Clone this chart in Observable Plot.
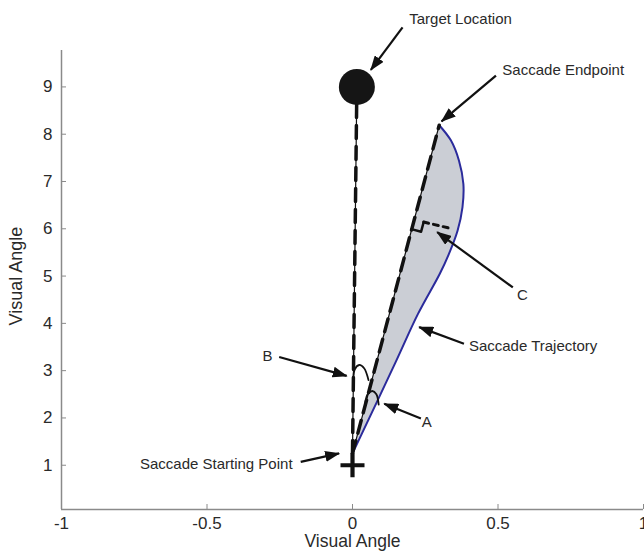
<!DOCTYPE html>
<html>
<head>
<meta charset="utf-8">
<script src="https://cdn.jsdelivr.net/npm/d3@7"></script>
<script src="https://cdn.jsdelivr.net/npm/@observablehq/plot@0.6"></script>
<style>
  html, body { margin: 0; padding: 0; background: #fff; }
</style>
</head>
<body>
<div id="chart"></div>
<script>
// ---- data (visual-angle units) ----
const xTicks = [-1, -0.5, 0, 0.5, 1];
const xTickLabels = ["-1", "-0.5", "0", "0.5", "1"];
const yTicks = [1, 2, 3, 4, 5, 6, 7, 8, 9];
const yTickLabels = ["1", "2", "3", "4", "5", "6", "7", "8", "9"];
const xDomain = [-1, 1];
const yDomain = [0.064, 9.77];

const startPoint = {x: 0, y: 1.25};     // saccade starting point (trajectory start)
const fixationCross = {x: 0, y: 1};     // "+" marker
const target = {x: 0.015, y: 9};        // target location
const endpoint = {x: 0.298, y: 8.19};   // saccade endpoint

// saccade trajectory (blue curve)
const trajX = [0, 0.149, 0.225, 0.300, 0.330, 0.361, 0.378, 0.381, 0.366, 0.338, 0.298];
const trajY = [1.25, 3.19, 4.20, 5.05, 5.45, 5.96, 6.46, 6.95, 7.44, 7.87, 8.19];

// angle arc A (between straight path and trajectory)
const arcAX = [0.044, 0.052, 0.068, 0.082, 0.090];
const arcAY = [2.33, 2.50, 2.57, 2.50, 2.28];
// angle arc B (between target line and straight path)
const arcBX = [0.003, 0.008, 0.023, 0.040, 0.055];
const arcBY = [2.82, 3.03, 3.12, 3.05, 2.80];

// right-angle marker C and perpendicular (max deviation)
const markX = [0.2026, 0.2357, 0.2447];
const markY = [5.992, 5.939, 6.143];
const perpX = [0.2447, 0.338];
const perpY = [6.143, 6.006];

// annotation labels
const labelText = ["Target Location", "Saccade Endpoint", "C", "Saccade Trajectory", "A", "B", "Saccade Starting Point"];
const labelX = [0.195, 0.515, 0.584, 0.40, 0.255, -0.292, -0.206];
const labelY = [10.44, 9.344, 4.59, 3.52, 1.91, 3.30, 1.02];
const labelAnchor = ["start", "start", "middle", "start", "middle", "middle", "end"];

// annotation arrows (tail -> tip)
const arrowX1 = [0.172, 0.493, 0.551, 0.383, 0.235, -0.252, -0.178];
const arrowY1 = [10.26, 9.24, 4.76, 3.57, 1.99, 3.29, 1.07];
const arrowX2 = [0.063, 0.306, 0.291, 0.229, 0.109, -0.020, -0.046];
const arrowY2 = [9.36, 8.27, 5.93, 3.92, 2.30, 2.89, 1.25];

// ---- build tables ----
const traj = trajX.map((x, i) => ({x, y: trajY[i]}));
const arcA = arcAX.map((x, i) => ({x, y: arcAY[i]}));
const arcB = arcBX.map((x, i) => ({x, y: arcBY[i]}));
const mark = markX.map((x, i) => ({x, y: markY[i]}));
const perp = perpX.map((x, i) => ({x, y: perpY[i]}));
const labels = labelText.map((t, i) => ({t, x: labelX[i], y: labelY[i], a: labelAnchor[i]}));
const arrows = arrowX1.map((x1, i) => ({x1, y1: arrowY1[i], x2: arrowX2[i], y2: arrowY2[i]}));
const targetLine = [startPoint, target];
const straightLine = [startPoint, endpoint];

const plusSymbol = {
  draw(ctx, size) {
    const r = Math.sqrt(size / Math.PI);
    ctx.moveTo(-r, 0); ctx.lineTo(r, 0);
    ctx.moveTo(0, -r); ctx.lineTo(0, r);
  }
};

const axisColor = "#8a8a8a";
const textColor = "#2a2a2a";

const chart = Plot.plot({
  width: 644,
  height: 551,
  marginLeft: 61,
  marginRight: 1,
  marginTop: 50,
  marginBottom: 42,
  style: {fontFamily: "'Liberation Sans', Arial, sans-serif", background: "#fff", color: textColor, overflow: "visible"},
  x: {domain: xDomain, axis: null},
  y: {domain: yDomain, axis: null},
  marks: [
    // grey area between straight path and trajectory (polygon closes along straight line)
    Plot.line(traj, {x: "x", y: "y", fill: "#cbced5", stroke: "none", curve: "catmull-rom"}),
    Plot.line(traj, {x: "x", y: "y", stroke: "#2b2b9c", strokeWidth: 2, curve: "catmull-rom"}),
    // thin solid + thick dashed lines
    Plot.line(targetLine, {x: "x", y: "y", stroke: "#111", strokeWidth: 1.2}),
    Plot.line(targetLine, {x: "x", y: "y", stroke: "#111", strokeWidth: 3.5, strokeDasharray: "13,8"}),
    Plot.line(straightLine, {x: "x", y: "y", stroke: "#111", strokeWidth: 1.2}),
    Plot.line(straightLine, {x: "x", y: "y", stroke: "#111", strokeWidth: 3.5, strokeDasharray: "13,8"}),
    // angle arcs
    Plot.line(arcA, {x: "x", y: "y", stroke: "#111", strokeWidth: 1.8, curve: "catmull-rom"}),
    Plot.line(arcB, {x: "x", y: "y", stroke: "#111", strokeWidth: 1.8, curve: "catmull-rom"}),
    // right angle marker and perpendicular
    Plot.line(mark, {x: "x", y: "y", stroke: "#111", strokeWidth: 2.5}),
    Plot.line(perp, {x: "x", y: "y", stroke: "#111", strokeWidth: 3, strokeDasharray: "5,5"}),
    // fixation cross and target
    Plot.dot([fixationCross], {x: "x", y: "y", symbol: plusSymbol, r: 12, stroke: "#111", strokeWidth: 4.2, fill: "none"}),
    Plot.dot([target], {x: "x", y: "y", r: 18, fill: "#151515"}),
    // annotation arrows
    Plot.link(arrows, {x1: "x1", y1: "y1", x2: "x2", y2: "y2", stroke: "#111", strokeWidth: 2.2}),
    // annotation labels
    Plot.text(labels.filter(d => d.a === "start"), {x: "x", y: "y", text: "t", textAnchor: "start", fontSize: 15, fill: textColor}),
    Plot.text(labels.filter(d => d.a === "middle"), {x: "x", y: "y", text: "t", textAnchor: "middle", fontSize: 15, fill: textColor}),
    Plot.text(labels.filter(d => d.a === "end"), {x: "x", y: "y", text: "t", textAnchor: "end", fontSize: 15, fill: textColor}),
    // axes
    Plot.ruleX([xDomain[0]], {stroke: axisColor, strokeWidth: 1.5}),
    Plot.ruleY([yDomain[0]], {stroke: axisColor, strokeWidth: 1.5}),
    Plot.tickX(xTicks, {x: d => d, stroke: axisColor, insetTop: 454}),
    Plot.tickY(yTicks, {y: d => d, stroke: axisColor, insetRight: 577}),
    Plot.axisX({ticks: xTicks, tickFormat: d => xTickLabels[xTicks.indexOf(d)], tickSize: 0, tickPadding: 7, fontSize: 17, label: null, fill: textColor}),
    Plot.axisY({ticks: yTicks, tickFormat: d => yTickLabels[yTicks.indexOf(d)], tickSize: 0, tickPadding: 9, fontSize: 17, label: null, fill: textColor}),
    Plot.text(["Visual Angle"], {frameAnchor: "bottom", text: d => d, lineAnchor: "middle", dy: 32, fontSize: 17.5, fill: textColor}),
    Plot.text(["Visual Angle"], {frameAnchor: "left", text: d => d, rotate: -90, lineAnchor: "middle", textAnchor: "middle", dx: -45, dy: -4, fontSize: 18, fill: textColor})
  ]
});

// filled arrowheads on the annotation links
const svg = d3.select(chart);
const defs = svg.insert("defs", ":first-child");
defs.append("marker")
  .attr("id", "ahead")
  .attr("markerUnits", "userSpaceOnUse")
  .attr("viewBox", "0 0 15 11")
  .attr("markerWidth", 15)
  .attr("markerHeight", 11)
  .attr("refX", 14)
  .attr("refY", 5.5)
  .attr("orient", "auto")
  .append("path")
  .attr("d", "M0,0L15,5.5L0,11Z")
  .attr("fill", "#111");
svg.selectAll('g[aria-label="link"] path').attr("marker-end", "url(#ahead)");

document.getElementById("chart").appendChild(chart);
</script>
</body>
</html>
